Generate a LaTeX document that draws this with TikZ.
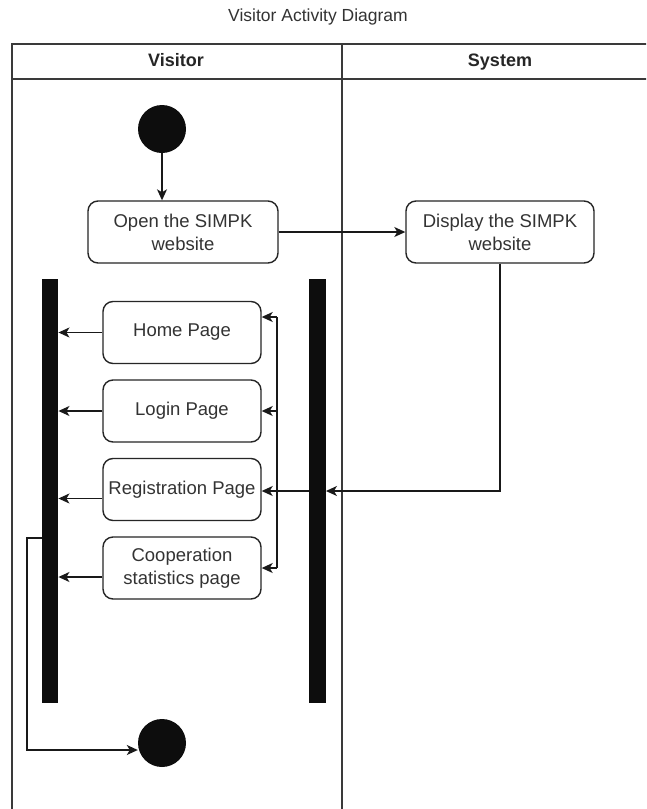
\documentclass[tikz,border=0pt]{standalone}
\usepackage{fontspec}
\setmainfont{Liberation Sans}
\usetikzlibrary{arrows.meta}
\definecolor{txt}{HTML}{333333}
\definecolor{lanecol}{HTML}{3A3A3A}
\begin{document}
\begin{tikzpicture}[x=1pt,y=-1pt,
  lane/.style={draw=lanecol,line width=1.8pt},
  actbox/.style={draw=black!85,line width=1.4pt,rounded corners=10pt,align=center,
    text=txt,font=\fontsize{18.5}{23}\selectfont,inner sep=0pt},
  bar/.style={fill=black!95,draw=none,minimum width=16.5pt,minimum height=424pt,inner sep=0pt},
  dot/.style={circle,fill=black!95,draw=none,minimum size=48pt,inner sep=0pt},
  arr/.style={draw=black!90,line width=1.3pt,-{Stealth[length=11pt,width=10pt,inset=3pt]}},
  ln/.style={draw=black!90,line width=1.3pt},
  hdr/.style={font=\fontsize{18}{22}\selectfont\bfseries,text=black!85,text height=13pt,text depth=4pt}]
\useasboundingbox (0,0) rectangle (646,809);
\clip (0,0) rectangle (646,809);
\fill[white] (0,0) rectangle (646,809);

% title
\node[font=\fontsize{17.5}{21}\selectfont,text=txt] (title) at (318,17) {Visitor Activity Diagram};

% swimlanes
\draw[lane] (12,820) -- (12,44) -- (670,44);
\draw[lane] (12,79) -- (670,79);
\draw[lane] (342,44) -- (342,820);
\node[hdr] (hvis) at (176,61.5) {Visitor};
\node[hdr] (hsys) at (500,61.5) {System};

% nodes
\node[dot] (start) at (162,129) {};
\node[actbox,minimum width=190pt,minimum height=62pt] (open) at (183,232) {Open the SIMPK\\website};
\node[actbox,minimum width=188pt,minimum height=62pt] (disp) at (500,232) {Display the SIMPK\\website};

\node[bar] (lbar) at (50,491) {};
\node[bar] (rbar) at (317.5,491) {};

\node[actbox,minimum width=158pt,minimum height=62pt] (home) at (182,332.5) {Home Page};
\node[actbox,minimum width=158pt,minimum height=62pt] (login) at (182,411) {Login Page};
\node[actbox,minimum width=158pt,minimum height=62pt] (reg) at (182,489.5) {Registration Page};
\node[actbox,minimum width=158pt,minimum height=62pt] (coop) at (182,568) {Cooperation\\statistics page};

\node[dot] (end) at (162,743) {};

% connectors
\draw[arr] (start.south) -- (start.south |- open.north);
\draw[arr] (open.east) -- (disp.west);

\draw[arr] (disp.south) |- (rbar.east);
\draw[arr] (rbar.west) -- (rbar.west -| reg.east);

\coordinate (vtop) at (277,317);
\coordinate (vbot) at (277,568);
\draw[ln] (vtop) -- (vbot);
\draw[arr] (vtop) -- (vtop -| home.east);
\draw[arr] (login.east -| vtop) -- (login.east);
\draw[arr] (vbot) -- (coop.east);

\draw[arr] (home.west) -- (home.west -| lbar.east);
\draw[arr] (login.west) -- (login.west -| lbar.east);
\draw[arr] ([yshift=-9pt]reg.west) -- ([yshift=-9pt]reg.west -| lbar.east);
\draw[arr] ([yshift=-9pt]coop.west) -- ([yshift=-9pt]coop.west -| lbar.east);

\coordinate (lout) at (42,538);
\draw[arr] (lout) -- (27,538) -- (27,750) -- ([yshift=-7pt]end.west);
\end{tikzpicture}
\end{document}
